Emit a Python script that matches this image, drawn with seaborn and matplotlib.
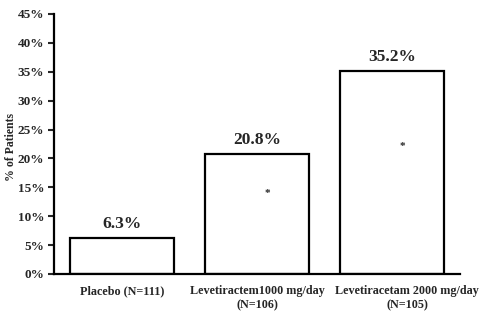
import matplotlib
matplotlib.use("Agg")
import matplotlib.pyplot as plt
from matplotlib.transforms import ScaledTranslation
import seaborn as sns
import pandas as pd

groups = ["Placebo (N=111)", "Levetiractem1000 mg/day\n(N=106)", "Levetiracetam 2000 mg/day\n(N=105)"]
responders = [6.3, 20.8, 35.2]
value_labels = ["6.3%", "20.8%", "35.2%"]
yticks = [0, 5, 10, 15, 20, 25, 30, 35, 40, 45]
ytick_labels = [f"{t}%" for t in yticks]
# significance markers: (group index, height in %)
markers = [(1, 14.0), (2, 22.0)]

sns.set_style("white")
plt.rcParams["font.family"] = ["Liberation Serif", "DejaVu Serif"]
plt.rcParams["font.weight"] = "bold"

df = pd.DataFrame({"group": groups, "pct": responders})

fig = plt.figure(figsize=(4.97, 3.30), dpi=100)
ax = fig.add_axes([54 / 497, 1 - 274 / 330, (460 - 54) / 497, (274 - 14) / 330])

sns.barplot(data=df, x="group", y="pct", ax=ax, color="white",
            edgecolor="black", linewidth=1.6, width=0.77, saturation=1)

for i, (v, lab) in enumerate(zip(responders, value_labels)):
    ax.annotate(lab, (i, v), xytext=(0, 4), textcoords="offset points",
                ha="center", va="bottom", fontsize=12.5, fontweight="bold")

for i, h in markers:
    ax.text(i + 0.08, h, "*", ha="center", va="center", fontsize=8)

ax.set_xlim(-0.504, 2.504)
ax.set_ylim(0, 45)
ax.set_yticks(yticks)
ax.set_yticklabels(ytick_labels, fontsize=9.5, fontweight="bold")
ax.set_xticks(range(len(groups)))
ax.set_xticklabels(groups, fontsize=8.7, fontweight="bold", linespacing=1.2)
ax.tick_params(axis="y", direction="out", length=4, width=1.5, pad=3, left=True)
ax.tick_params(axis="x", length=0, pad=8)

# nudge the long right-hand label so it sits clear of its neighbour
last = ax.get_xticklabels()[-1]
last.set_transform(last.get_transform() + ScaledTranslation(0.15, 0, fig.dpi_scale_trans))

ax.set_xlabel("")
ax.set_ylabel("% of Patients", fontsize=8.5, fontweight="bold")
ax.yaxis.set_label_coords(-0.092, 0.488)

for s in ["top", "right"]:
    ax.spines[s].set_visible(False)
for s in ["left", "bottom"]:
    ax.spines[s].set_color("black")
    ax.spines[s].set_linewidth(1.6)

fig.savefig("out.png", dpi=100, facecolor="white")
